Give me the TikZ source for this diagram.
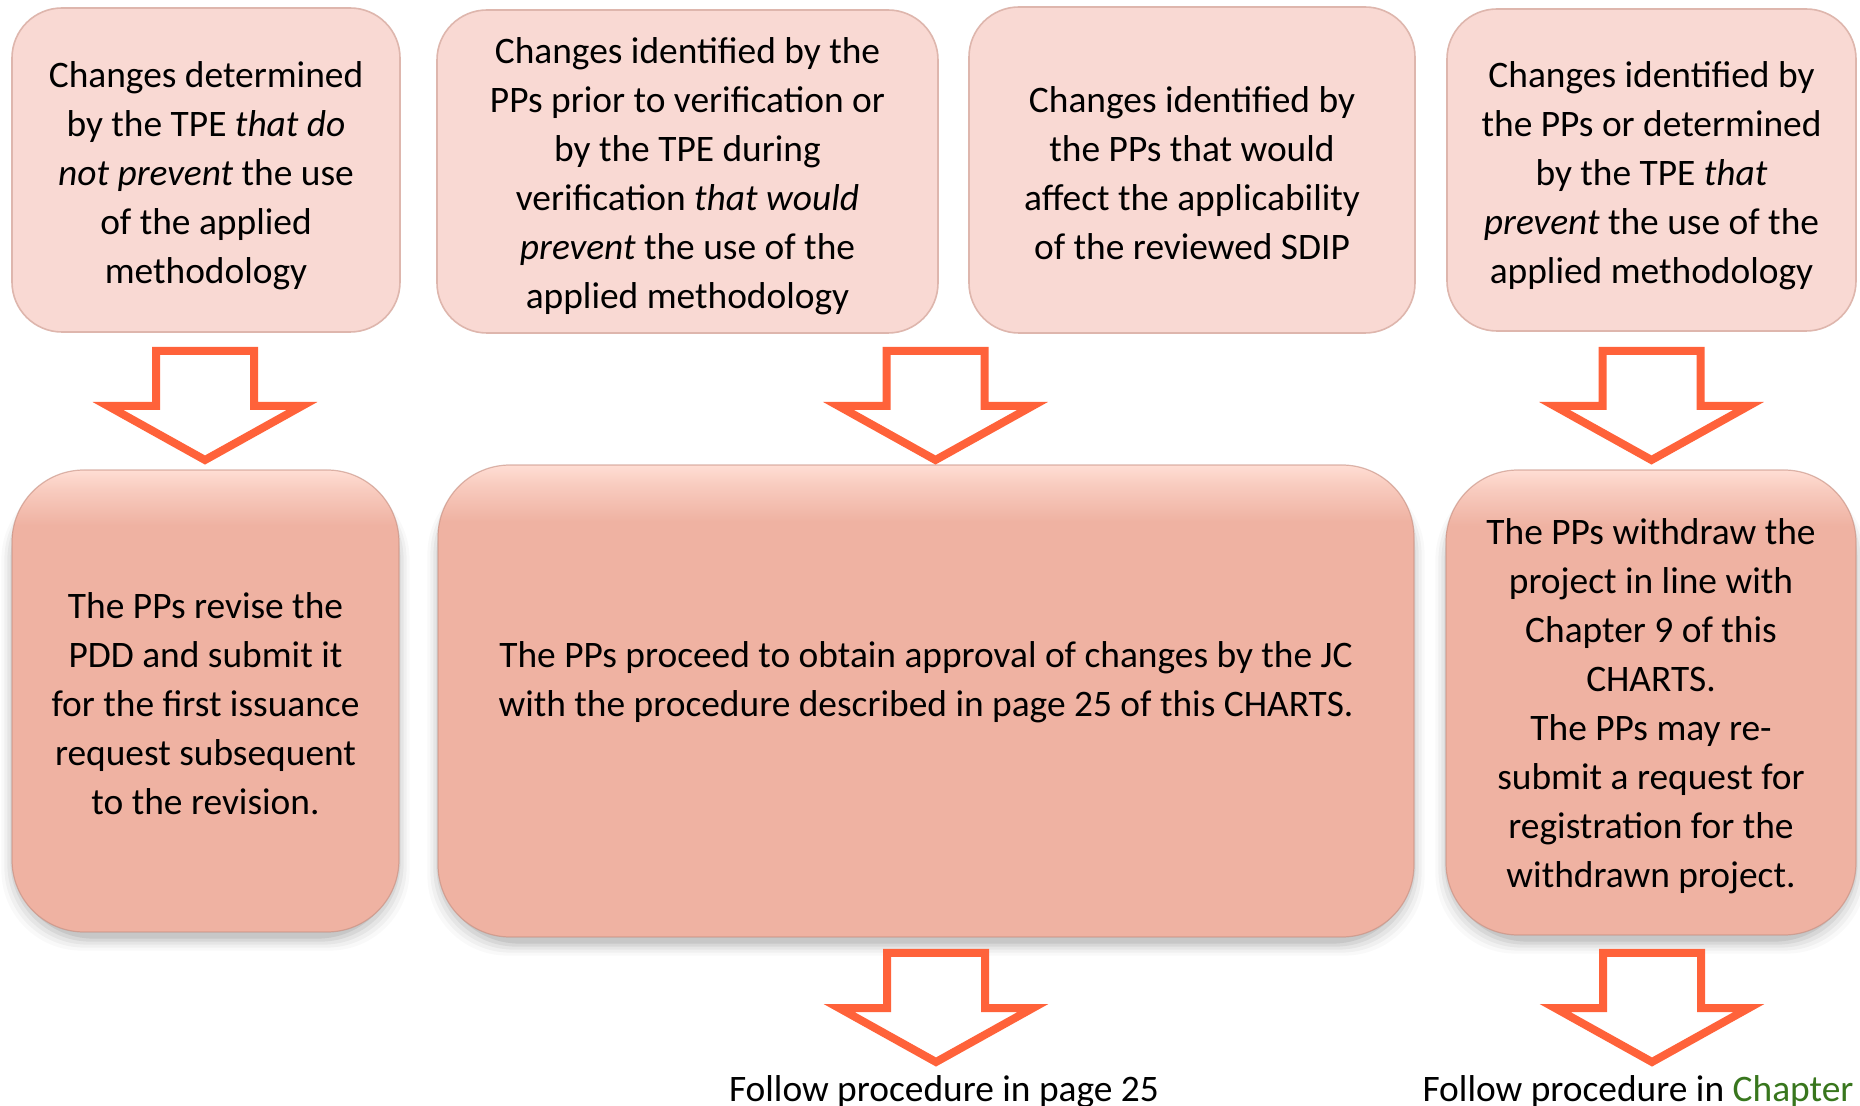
\documentclass[tikz,border=0pt]{standalone}
\usepackage{fontspec}
\setmainfont{Carlito}
\usetikzlibrary{calc,backgrounds}

\definecolor{topfill}{RGB}{249,217,211}
\definecolor{topedge}{RGB}{222,182,173}
\definecolor{botfill}{RGB}{239,178,162}
\definecolor{botlight}{RGB}{255,222,212}
\definecolor{botedge}{RGB}{196,140,126}
\definecolor{arrowred}{RGB}{255,98,58}
\definecolor{linkgreen}{RGB}{56,118,29}

% fill of the lower boxes: flat salmon with a light band along the top edge
\pgfdeclareverticalshading{botbevel}{100bp}{color(0bp)=(botfill); color(25bp)=(botfill); color(69bp)=(botfill); color(73bp)=(botlight!60!botfill); color(75bp)=(botlight); color(100bp)=(botlight)}

\tikzset{
  txt/.style={font=\fontsize{18.7}{24.5}\selectfont, align=center, text=black},
  topbox/.style={rounded corners=25pt, fill=topfill, draw=topedge, line width=0.8pt, inner sep=0pt},
  botbox/.style={rounded corners=36pt, shading=botbevel, draw=botedge, draw opacity=0.6, line width=0.6pt, inner sep=0pt},
  flowarrow/.style={draw=arrowred, fill=white, line width=4pt, miter limit=20},
}

% hollow block arrow pointing down; #1 is the middle of its top edge
\newcommand\blockarrow[1]{%
  \draw[flowarrow, shift={(#1)}] (-49,0) -- (49,0) -- (49,55) -- (97,55) -- (0,109) -- (-97,55) -- (-49,55) -- cycle;}

\begin{document}
\begin{tikzpicture}[x=0.5pt, y=-0.5pt]
\useasboundingbox (0,0) rectangle (1860,1106);
\clip (0,0) rectangle (1860,1106);

% upper row
\node[topbox, minimum width=194pt, minimum height=162pt] (t1) at (206,170) {};
\node[topbox, minimum width=250.5pt, minimum height=161.5pt] (t2) at (687.5,171.5) {};
\node[topbox, minimum width=223pt, minimum height=163pt] (t3) at (1192,170) {};
\node[topbox, minimum width=204.5pt, minimum height=161pt] (t4) at (1651.5,170) {};

\node[txt] (t1t) at ($(t1.center)+(0,6)$)
  {Changes determined\\by the TPE \textit{that do}\\\textit{not prevent} the use\\of the applied\\methodology};
\node[txt] (t2t) at ($(t2.center)+(0,5)$)
  {Changes identified by the\\PPs prior to verification or\\by the TPE during\\verification \textit{that would}\\\textit{prevent} the use of the\\applied methodology};
\node[txt] (t3t) at ($(t3.center)+(0,3)$)
  {Changes identified by\\the PPs that would\\affect the applicability\\of the reviewed SDIP};
\node[txt] (t4t) at ($(t4.center)+(0,6)$)
  {Changes identified by\\the PPs or determined\\by the TPE \textit{that}\\\textit{prevent} the use of the\\applied methodology};

% lower row
\node[botbox, minimum width=193.5pt, minimum height=231pt] (b1) at (205.5,701) {};
\node[botbox, minimum width=488pt, minimum height=236pt] (b2) at (926,701) {};
\node[botbox, minimum width=205pt, minimum height=232.5pt] (b3) at (1651,702.5) {};

\node[txt] (b1t) at ($(b1.center)+(0,3)$)
  {The PPs revise the\\PDD and submit it\\for the first issuance\\request subsequent\\to the revision.};
\node[txt] (b2t) at ($(b2.center)+(0,-19)$)
  {The PPs proceed to obtain approval of changes by the JC\\with the procedure described in page 25 of this CHARTS.};
\node[txt] (b3t) at ($(b3.center)+(0,4)$)
  {The PPs withdraw the\\project in line with\\Chapter 9 of this\\CHARTS.\\The PPs may re-\\submit a request for\\registration for the\\withdrawn project.};

% block arrows
\coordinate (a1) at (205,351);
\coordinate (a2) at (935.5,351);
\coordinate (a3) at (1651.5,351);
\coordinate (a4) at (936,953);
\coordinate (a5) at (1652,953);
\blockarrow{a1}
\blockarrow{a2}
\blockarrow{a3}
\blockarrow{a4}
\blockarrow{a5}

% captions under the last arrows, running off the lower edge
\node[txt, anchor=base] (f1) at (944,1101) {Follow procedure in page 25};
\node[txt, anchor=base] (f2) at (1638,1101) {Follow procedure in \textcolor{linkgreen}{Chapter}};

% page background and soft shadows under the lower boxes
\begin{pgfonlayer}{background}
  \fill[white] (0,0) rectangle (1860,1106);
  \foreach \b in {b1,b2,b3}{
    \foreach \r/\o in {12/0.025,9/0.035,6/0.045,3/0.06,0/0.07}{
      \fill[black, opacity=\o, rounded corners=40pt]
        ($(\b.north west)+(-\r+2,10)$) rectangle ($(\b.south east)+(\r-2,6+\r)$);
    }
  }
\end{pgfonlayer}
\end{tikzpicture}
\end{document}
